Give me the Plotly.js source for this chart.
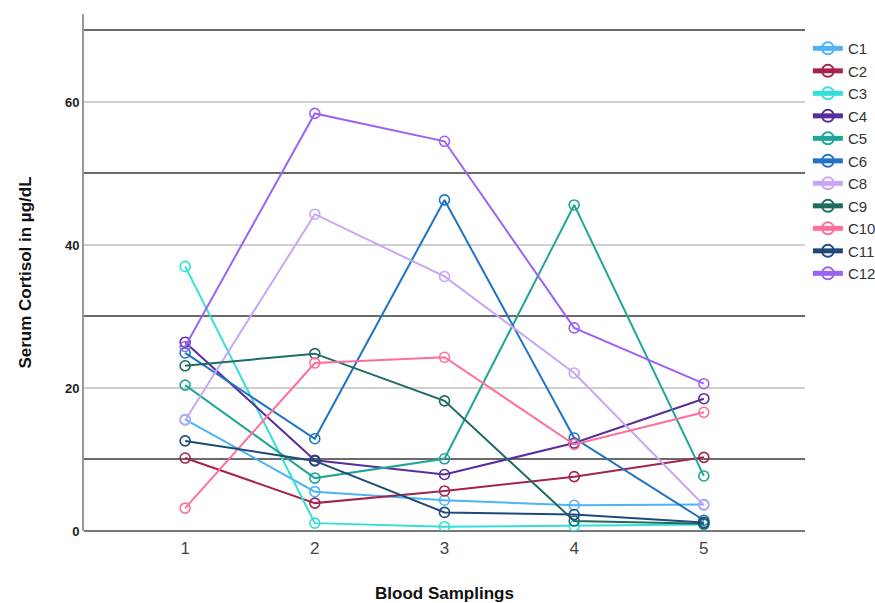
<!DOCTYPE html>
<html>
<head>
<meta charset="utf-8">
<script src="https://cdn.plot.ly/plotly-3.0.1.min.js"></script>
<style>html,body{margin:0;padding:0;background:#fff;}#chart{width:875px;height:603px;}</style>
</head>
<body>
<div id="chart"></div>
<script>
const samplings = [1, 2, 3, 4, 5];
const seriesNames = ["C1","C2","C3","C4","C5","C6","C8","C9","C10","C11","C12"];
const C1  = [15.6, 5.5, 4.3, 3.6, 3.7];
const C2  = [10.2, 3.9, 5.6, 7.6, 10.3];
const C3  = [37.0, 1.1, 0.6, 0.7, 0.9];
const C4  = [26.4, 9.9, 7.9, 12.3, 18.5];
const C5  = [20.4, 7.4, 10.1, 45.6, 7.7];
const C6  = [24.9, 12.9, 46.3, 13.0, 1.5];
const C8  = [15.5, 44.3, 35.6, 22.1, 3.6];
const C9  = [23.1, 24.8, 18.2, 1.4, 1.0];
const C10 = [3.2, 23.5, 24.3, 12.1, 16.6];
const C11 = [12.6, 9.8, 2.6, 2.3, 1.2];
const C12 = [25.8, 58.4, 54.5, 28.4, 20.6];
const seriesValues = [C1, C2, C3, C4, C5, C6, C8, C9, C10, C11, C12];
const colors = ["#4db3f5","#a3244f","#33e0d8","#5a2d9e","#21a597","#1f73c4","#c8a6f7","#1e6b62","#ff6e99","#1e4a7a","#9c63f2"];
const yTickVals = [0, 20, 40, 60];
const xTickVals = [1, 2, 3, 4, 5];

const traces = seriesNames.map((name, i) => ({
  type: "scatter",
  mode: "lines+markers",
  name: name,
  x: samplings,
  y: seriesValues[i],
  line: {color: colors[i], width: 2},
  marker: {symbol: "circle-open", size: 10, color: colors[i], line: {width: 1.6, color: colors[i]}}
}));

const layout = {
  width: 875, height: 603,
  paper_bgcolor: "#fff", plot_bgcolor: "#fff",
  margin: {l: 84, r: 70, t: 14, b: 72, autoexpand: false},
  font: {family: "Liberation Sans, Arial, sans-serif", color: "#333"},
  showlegend: true,
  legend: {
    x: 1.004, xanchor: "left", y: 0.965, yanchor: "top",
    font: {size: 15, color: "#333"},
    itemsizing: "constant",
    tracegroupgap: 0,
    bgcolor: "rgba(0,0,0,0)"
  },
  xaxis: {
    range: [0.22, 5.78],
    tickvals: xTickVals,
    ticktext: xTickVals.map(String),
    ticks: "",
    ticklabelstandoff: 5,
    showgrid: false,
    zeroline: false,
    showline: false,
    tickfont: {size: 17, color: "#444"},
    title: {text: "<b>Blood Samplings</b>", font: {size: 17, color: "#111"}, standoff: 30}
  },
  yaxis: {
    range: [0, 72.3],
    tickvals: yTickVals,
    ticktext: yTickVals.map(String),
    ticks: "",
    showgrid: true,
    gridcolor: "#cfcfcf",
    gridwidth: 1.5,
    minor: {dtick: 10, tick0: 0, showgrid: true, gridcolor: "#6a6a6a", gridwidth: 2, ticks: ""},
    zeroline: true,
    zerolinecolor: "#777",
    zerolinewidth: 2,
    showline: true,
    linecolor: "#999",
    linewidth: 2,
    tickfont: {size: 13, color: "#222", family: "Liberation Sans, Arial, sans-serif", weight: "bold"},
    title: {text: "<b>Serum Cortisol in µg/dL</b>", font: {size: 17, color: "#111"}, standoff: 29}
  }
};

Plotly.newPlot("chart", traces, layout, {displayModeBar: false, staticPlot: true});
</script>
</body>
</html>
